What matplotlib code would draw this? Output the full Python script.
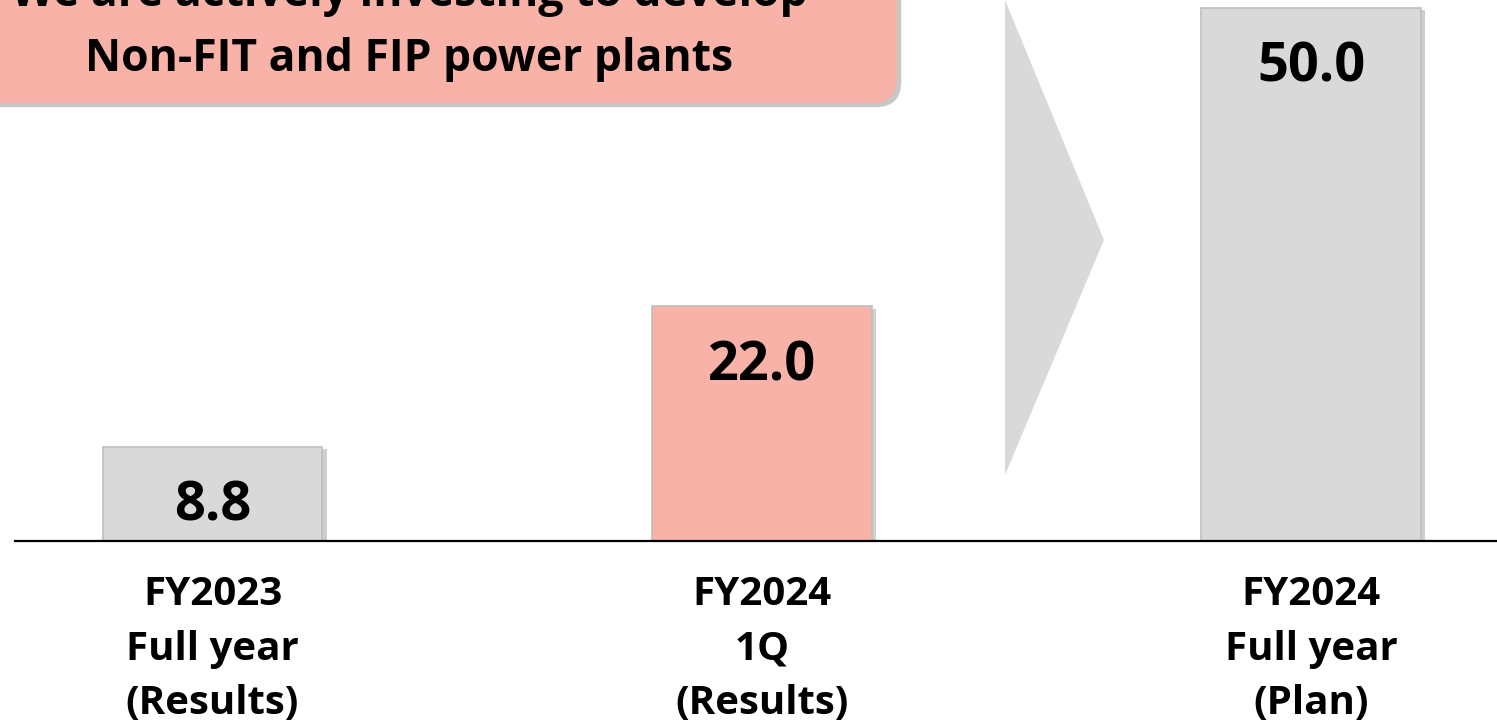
import matplotlib
matplotlib.use("Agg")
import matplotlib.pyplot as plt
import matplotlib.patheffects as pe
import matplotlib.transforms as mtransforms
from matplotlib.patches import FancyBboxPatch, Polygon

categories = [("FY2023", "Full year", "(Results)"),
              ("FY2024", "1Q", "(Results)"),
              ("FY2024", "Full year", "(Plan)")]
values = [8.8, 22.0, 50.0]
value_labels = ["8.8", "22.0", "50.0"]
bar_colors = ["#D9D9D9", "#F9B2A7", "#D9D9D9"]
headline = ["We are actively investing to develop", "Non-FIT and FIP power plants"]

plt.rcParams["font.family"] = ["Open Sans", "DejaVu Sans"]
W, H = 1497, 725
fig = plt.figure(figsize=(W / 100, H / 100), dpi=100)

# axes: baseline at y=541 px from top, full width
ax = fig.add_axes([0, 184 / H, 1, 541 / H])
ax.set_xlim(-212.5 / 549.25, (W - 212.5) / 549.25)
ax.set_ylim(0, 541 / 10.66)
ax.axis("off")

shadow = [pe.SimplePatchShadow(offset=(3, -1.5), shadow_rgbFace="#a0a0a0", alpha=0.5), pe.Normal()]
bars = ax.bar(range(len(values)), values, width=0.40, color=bar_colors,
              edgecolor="#BFBFBF", linewidth=1.2, zorder=2)
for b in bars:
    b.set_path_effects(shadow)

for i, (v, lab) in enumerate(zip(values, value_labels)):
    ax.annotate(lab, (i, v), xytext=(0, -53), textcoords="offset points",
                ha="center", va="baseline", fontsize=39, fontweight="bold", zorder=3)

# baseline
ax.axhline(0, xmin=15 / W, xmax=1, color="black", linewidth=1.6, zorder=4, clip_on=False)

# category labels, one text per line (baselines in px from top)
trans = mtransforms.blended_transform_factory(ax.transData, fig.transFigure)
line_y = [605, 660, 714]
for i, lines in enumerate(categories):
    for ln, y in zip(lines, line_y):
        ax.text(i, 1 - y / H, ln, transform=trans, ha="center", va="baseline",
                fontsize=29, fontweight="bold", clip_on=False)

# grey chevron arrow between 1Q and plan
arrow = Polygon([(1005 / W, 1.0), (1104 / W, 1 - 240 / 541), (1005 / W, 1 - 475 / 541)],
                closed=True, transform=ax.transAxes, facecolor="#D9D9D9", edgecolor="none", zorder=1)
ax.add_patch(arrow)

# headline box (cut off at the top-left)
box = FancyBboxPatch((-40 / W, (H - 103) / H), (897 + 40) / W, 200 / H,
                     boxstyle="round,pad=0,rounding_size=0.017", transform=fig.transFigure,
                     facecolor="#F9B2A7", edgecolor="none", mutation_aspect=W / H,
                     path_effects=[pe.SimplePatchShadow(offset=(3, -3), shadow_rgbFace="#909090", alpha=0.5), pe.Normal()])
fig.patches.append(box)
fig.text(409 / W, 1 - 6 / H, headline[0], ha="center", va="baseline",
         fontsize=32, fontweight="bold")
fig.text(409 / W, 1 - 71 / H, headline[1], ha="center", va="baseline",
         fontsize=32, fontweight="bold")

fig.savefig("out.png", dpi=100)
